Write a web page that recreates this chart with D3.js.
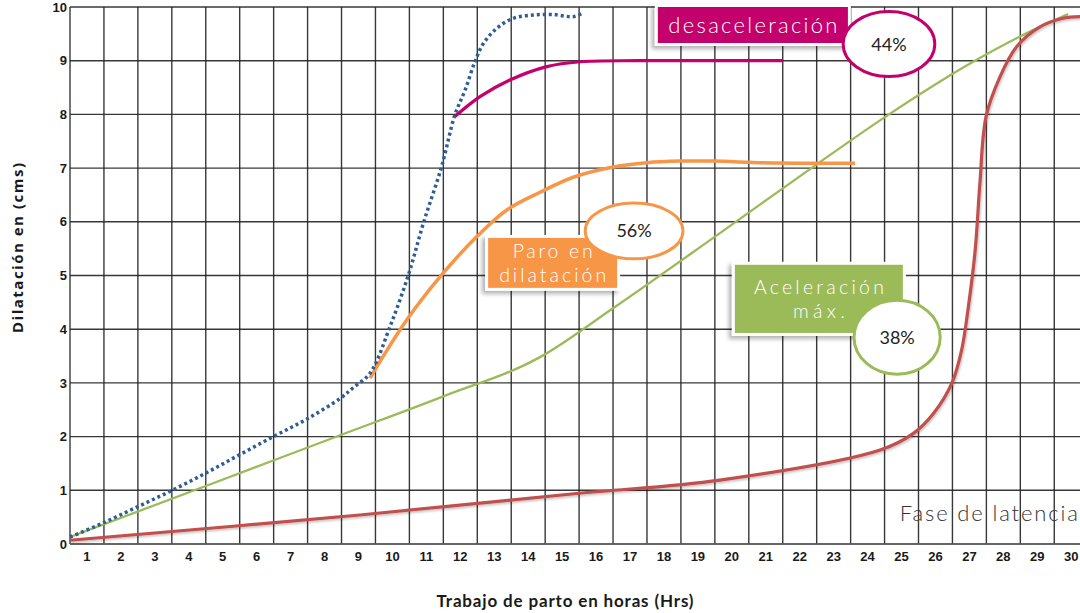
<!DOCTYPE html>
<html><head><meta charset="utf-8">
<script src="https://cdn.jsdelivr.net/npm/d3@7"></script>
<style>html,body{margin:0;padding:0;background:#fff;overflow:hidden}</style>
</head><body>
<svg id="chart" width="1080" height="613"></svg>
<script>
// ---------- data ----------
const hourTicks = d3.range(1, 31);          // 1..30
const dilationTicks = d3.range(0, 11);      // 0..10
const xTitle = "Trabajo de parto en horas (Hrs)";
const yTitle = "Dilatación en (cms)";

// dotted blue curve (normal labour)
const curvaNormal = [[0.5,0.13],[1.47,0.39],[2.48,0.69],[3.48,0.99],[4.5,1.32],[5.49,1.66],[6.49,2.0],[7.49,2.33],[8.48,2.72],[8.84,2.91],[9.34,3.18],[9.93,4.05],[10.47,5.01],[10.91,5.97],[11.45,7.03],[11.84,7.99],[12.14,8.45],[12.43,8.98],[12.68,9.32],[13.07,9.6],[13.56,9.79],[14.15,9.85],[14.74,9.86],[15.33,9.82],[15.58,9.88]];
// orange: paro en dilatación
const curvaParo = [[9.34,3.09],[10.42,4.17],[11.45,5.01],[12.48,5.72],[13.37,6.22],[14.35,6.55],[15.33,6.83],[16.51,7.02],[17.49,7.1],[18.47,7.13],[19.45,7.13],[20.93,7.1],[22.5,7.09],[23.63,7.09]];
// magenta: desaceleración
const curvaDesac = [[11.84,7.96],[12.58,8.33],[13.46,8.64],[14.55,8.89],[15.53,8.98],[17.29,9.0],[21.51,9.0]];
// green: aceleración máx.
const curvaAcel = [[0.5,0.13],[4.5,1.08],[8.48,2.03],[11.5,2.75],[14.35,3.48],[16.5,4.39],[19.65,5.79],[22.5,7.07],[24.51,7.95],[27.11,8.98],[28.87,9.57],[29.91,9.87]];
// red: fase de latencia prolongada
const curvaLatencia = [[0.5,0.07],[9.04,0.54],[15.43,0.94],[19.65,1.19],[24.37,1.75],[25.35,2.06],[25.94,2.43],[26.48,2.99],[26.77,3.61],[26.97,4.42],[27.17,5.47],[27.31,6.72],[27.49,7.96],[27.9,8.7],[28.39,9.26],[29.08,9.63],[29.76,9.79],[30.26,9.82]];

const boxLabels = [
  {lines:["desaceleración"], widths:[169], color:"#c3006b", x0:17.82, x1:23.42, y0:10.0, y1:9.33},
  {lines:["Paro en","dilatación"], widths:[80,107], color:"#f79646", x0:12.82, x1:16.62, y0:5.70, y1:4.77},
  {lines:["Aceleración","máx."], widths:[130,52], color:"#9bbb59", x0:20.09, x1:25.04, y0:5.20, y1:3.93}
];
const pctLabels = [
  {text:"44%", color:"#c3006b", cx:24.63, cy:9.31, rx:1.35, ry:0.605},
  {text:"56%", color:"#f79646", cx:17.12, cy:5.83, rx:1.44, ry:0.52},
  {text:"38%", color:"#9bbb59", cx:24.87, cy:3.85, rx:1.27, ry:0.69}
];
const faseLabel = {text:"Fase de latencia", x:24.95, y:0.43};

// ---------- scales ----------
const svg = d3.select("#chart");
const colW = 33.94;
const x = d3.scaleLinear().domain([0.5, 30.5]).range([70, 70 + 30*colW]);
const y = d3.scaleLinear().domain([0, 10]).range([544, 7]);

const defs = svg.append("defs");
const f = defs.append("filter").attr("id","sh").attr("x","-20%").attr("y","-30%").attr("width","140%").attr("height","170%");
f.append("feDropShadow").attr("dx",-3).attr("dy",3).attr("stdDeviation",2).attr("flood-color","#000").attr("flood-opacity",0.3);
const f2 = defs.append("filter").attr("id","lsh").attr("x","-5%").attr("y","-5%").attr("width","110%").attr("height","110%");
f2.append("feDropShadow").attr("dx",1).attr("dy",1.5).attr("stdDeviation",1).attr("flood-color","#000").attr("flood-opacity",0.25);

// ---------- grid ----------
const grid = svg.append("g");
const vLines = d3.range(0, 31).map(k => k + 0.5);
grid.selectAll("line.v").data(vLines).join("line")
  .attr("x1", d => x(d)).attr("x2", d => x(d))
  .attr("y1", y(10)).attr("y2", y(0))
  .attr("stroke", d => d === 0.5 ? "#666" : "#222")
  .attr("stroke-width", d => d === 0.5 ? 2 : 1.4).attr("stroke-opacity", 0.9);
grid.selectAll("line.h").data(dilationTicks).join("line")
  .attr("x1", x(0.5)).attr("x2", 1080)
  .attr("y1", d => y(d)).attr("y2", d => y(d))
  .attr("stroke", d => d === 0 ? "#555" : "#222")
  .attr("stroke-width", d => d === 0 ? 2 : 1.4).attr("stroke-opacity", 0.9);

// tick labels
svg.append("g").selectAll("text").data(dilationTicks).join("text")
  .attr("x", 67).attr("y", d => y(d)).attr("dy", d => d === 10 ? "0.4em" : "0.36em")
  .attr("text-anchor","end")
  .attr("font-family","Liberation Sans, Arial, sans-serif").attr("font-weight","bold")
  .attr("font-size", 13).attr("fill","#1a1a1a").text(d => d);
svg.append("g").selectAll("text").data(hourTicks).join("text")
  .attr("x", d => x(d)).attr("y", 561)
  .attr("text-anchor","middle")
  .attr("font-family","Liberation Sans, Arial, sans-serif").attr("font-weight","bold")
  .attr("font-size", 13).attr("fill","#1a1a1a").text(d => d);

// axis titles
svg.append("text").attr("x", 565).attr("y", 607).attr("text-anchor","middle")
  .attr("font-family","Lato, Open Sans, sans-serif").attr("font-weight","bold")
  .attr("font-size", 17).attr("fill","#1a1a1a")
  .attr("textLength", 257).text(xTitle);
svg.append("text").attr("transform","translate(23,248) rotate(-90)").attr("text-anchor","middle")
  .attr("font-family","Open Sans, Lato, sans-serif").attr("font-weight","bold")
  .attr("font-size", 15).attr("fill","#1a1a1a")
  .attr("textLength", 170).text(yTitle);

// ---------- curves ----------
const line = d3.line().x(d => x(d[0])).y(d => y(d[1])).curve(d3.curveMonotoneX);
const lineC = d3.line().x(d => x(d[0])).y(d => y(d[1])).curve(d3.curveCatmullRom.alpha(0.5));
const curves = svg.append("g").attr("fill","none").attr("stroke-linecap","butt");
curves.append("path").attr("d", line(curvaAcel)).attr("stroke","#9bbb59").attr("stroke-width",2.3);
curves.append("path").attr("d", lineC(curvaLatencia)).attr("stroke","#c0504d").attr("stroke-width",3.2).attr("filter","url(#lsh)");
curves.append("path").attr("d", lineC(curvaParo)).attr("stroke","#f79646").attr("stroke-width",3.5);
curves.append("path").attr("d", lineC(curvaDesac)).attr("stroke","#c3006b").attr("stroke-width",3.2);
curves.append("path").attr("d", lineC(curvaNormal)).attr("stroke","#2f5e93").attr("stroke-width",3.5).attr("stroke-dasharray","3,3");

// ---------- annotations ----------
const ann = svg.append("g");
boxLabels.forEach(b => {
  const g = ann.append("g");
  const bx = x(b.x0), by = y(b.y0), bw = x(b.x1) - x(b.x0), bh = y(b.y1) - y(b.y0);
  g.append("rect").attr("x",bx-3).attr("y",by-3).attr("width",bw+6).attr("height",bh+6)
    .attr("fill","#fff").attr("filter","url(#sh)");
  g.append("rect").attr("x",bx).attr("y",by).attr("width",bw).attr("height",bh).attr("fill",b.color);
  const n = b.lines.length, lh = 24;
  b.lines.forEach((t,i) => {
    g.append("text").attr("x", bx + bw/2).attr("y", by + bh/2 + (i - (n-1)/2)*lh).attr("dy","0.35em")
      .attr("text-anchor","middle").attr("fill","#fff")
      .attr("font-family","Lato, Open Sans, sans-serif").attr("font-weight",300)
      .attr("font-size", n > 1 ? 19.5 : 22)
      .attr("textLength", b.widths[i]).text(t);
  });
});
pctLabels.forEach(p => {
  const cx = x(p.cx), cy = y(p.cy);
  ann.append("ellipse").attr("cx",cx).attr("cy",cy)
    .attr("rx", x(p.cx + p.rx) - cx).attr("ry", y(p.cy - p.ry) - cy)
    .attr("fill","#fff").attr("stroke",p.color).attr("stroke-width",3);
  ann.append("text").attr("x",cx).attr("y",cy).attr("dy","0.36em").attr("text-anchor","middle")
    .attr("font-family","Lato, Open Sans, sans-serif").attr("font-size",18).attr("fill","#222").text(p.text);
});
ann.append("text").attr("x", x(faseLabel.x)).attr("y", y(faseLabel.y))
  .attr("font-family","Lato, Open Sans, sans-serif").attr("font-weight",300).attr("font-size",22).attr("fill","#333")
  .attr("textLength",178).text(faseLabel.text);
</script>
</body></html>
